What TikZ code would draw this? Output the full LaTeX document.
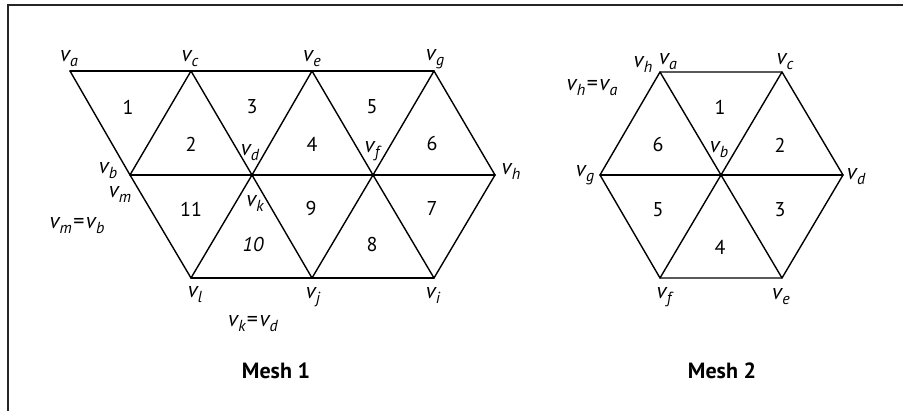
\documentclass[tikz,border=0pt]{standalone}
\usepackage{fontspec}
\setmainfont{PT Sans}
\newcommand{\vlab}[1]{\textit{v\kern0.3pt\raisebox{-5pt}{\fontsize{16}{16}\selectfont\itshape #1}}}
\newcommand{\veq}[2]{\vlab{#1}\kern1.5pt=\kern1.5pt\vlab{#2}}
\begin{document}
\begin{tikzpicture}[x=1pt,y=-1pt,
  edge/.style={line width=1.4pt, line join=round, line cap=round},
  num/.style={font=\fontsize{20}{20}\selectfont, inner sep=0pt},
  lab/.style={font=\fontsize{22}{22}\selectfont, inner sep=0pt},
  ttl/.style={font=\fontsize{22}{22}\selectfont\bfseries, inner sep=0pt},
  frame/.style={line width=2pt, black!85}]
\useasboundingbox (0,0) rectangle (903,411);
% frame
\coordinate (fbl) at (8,411);
\coordinate (ftl) at (8,5);
\coordinate (ftr) at (903,5);
\draw[frame] (fbl) -- (ftl) -- (ftr);

% ---------- Mesh 1 ----------
\coordinate (a) at (70,71);
\coordinate (c) at (191,71);
\coordinate (e) at (312,71);
\coordinate (g) at (434,71);
\coordinate (b) at (130,175);
\coordinate (d) at (252,175);
\coordinate (f) at (373,175);
\coordinate (h) at (495,175);
\coordinate (l) at (191,278);
\coordinate (j) at (312,278);
\coordinate (i) at (434,278);

\draw[edge] (a) -- (g);
\draw[edge] (b) -- (h);
\draw[edge] (l) -- (i);
\draw[edge] (a) -- (b) -- (l);
\draw[edge] (c) -- (d) -- (j);
\draw[edge] (e) -- (f) -- (i);
\draw[edge] (g) -- (h);
\draw[edge] (c) -- (b);
\draw[edge] (e) -- (d) -- (l);
\draw[edge] (g) -- (f) -- (j);
\draw[edge] (h) -- (i);

\node[num] (n1) at (128,107) {1};
\node[num] (n2) at (191,144) {2};
\node[num] (n3) at (252,107) {3};
\node[num] (n4) at (312,144) {4};
\node[num] (n5) at (372,107) {5};
\node[num] (n6) at (432,144) {6};
\node[num] (n7) at (432,209) {7};
\node[num] (n8) at (372,245) {8};
\node[num] (n9) at (311,209) {9};
\node[num] (n10) at (253,245) {\itshape 10};
\node[num] (n11) at (191,209) {11};

\node[lab] (la) at (69,59) {\vlab{a}};
\node[lab] (lc) at (190,59) {\vlab{c}};
\node[lab] (le) at (312,59) {\vlab{e}};
\node[lab] (lg) at (435,59) {\vlab{g}};
\node[lab] (lb) at (108,171) {\vlab{b}};
\node[lab] (lm) at (120,195) {\vlab{m}};
\node[lab] (ld) at (250,153) {\vlab{d}};
\node[lab] (lf) at (372,151) {\vlab{f}};
\node[lab] (lh) at (511,172) {\vlab{h}};
\node[lab] (lk) at (255,204) {\vlab{k}};
\node[lab] (ll) at (195,295) {\vlab{l}};
\node[lab] (lj) at (313,297) {\vlab{j}};
\node[lab] (li) at (433,296) {\vlab{i}};
\node[lab] (lmb) at (77,226) {\veq{m}{b}};
\node[lab] (lkd) at (253,324) {\veq{k}{d}};

\node[ttl] (t1) at (276,371) {Mesh 1};

% ---------- Mesh 2 ----------
\coordinate (A) at (660,72);
\coordinate (C) at (782,72);
\coordinate (D) at (843,175);
\coordinate (E) at (782,278);
\coordinate (F) at (660,278);
\coordinate (G) at (600,175);
\coordinate (B) at (721,175);

\draw[edge] (A) -- (C) -- (D) -- (E) -- (F) -- (G) -- cycle;
\draw[edge] (A) -- (B) -- (E);
\draw[edge] (C) -- (B) -- (F);
\draw[edge] (G) -- (B) -- (D);

\node[num] (m1) at (720,107) {1};
\node[num] (m2) at (780,145) {2};
\node[num] (m3) at (780,210) {3};
\node[num] (m4) at (720,247) {4};
\node[num] (m5) at (658,210) {5};
\node[num] (m6) at (658,145) {6};

\node[lab] (Lh) at (643,65) {\vlab{h}};
\node[lab] (La) at (668,62) {\vlab{a}};
\node[lab] (Lc) at (785,62) {\vlab{c}};
\node[lab] (Lha) at (592,88) {\veq{h}{a}};
\node[lab] (Lb) at (719,150) {\vlab{b}};
\node[lab] (Lg) at (585,175) {\vlab{g}};
\node[lab] (Ld) at (856,177) {\vlab{d}};
\node[lab] (Lf) at (664,297) {\vlab{f}};
\node[lab] (Le) at (781,297) {\vlab{e}};

\node[ttl] (t2) at (722,371) {Mesh 2};
\end{tikzpicture}
\end{document}
